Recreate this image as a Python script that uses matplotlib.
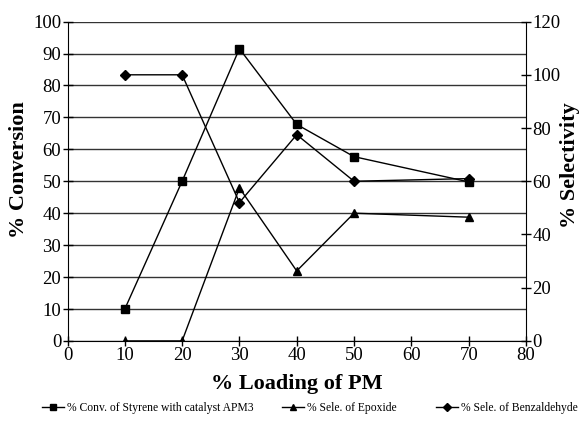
import matplotlib.pyplot as plt
from matplotlib.lines import Line2D

plt.rcParams['font.family'] = ['Liberation Serif', 'DejaVu Serif']

loading = [10, 20, 30, 40, 50, 70]
conversion = [10, 50, 91.5, 67.8, 57.7, 49.8]
sele_epoxide = [0, 0, 57.5, 26.3, 48, 46.5]
sele_benzaldehyde = [100, 100, 52, 77.5, 60, 61]

fig = plt.figure(figsize=(5.87, 4.23), dpi=100)
ax = fig.add_axes([0.115, 0.194, 0.781, 0.755])
ax2 = ax.twinx()

ax.plot(loading, conversion, color='black', lw=1, marker='s', ms=5.5)
ax2.plot(loading, sele_epoxide, color='black', lw=1, marker='^', ms=5.5)
ax2.plot(loading, sele_benzaldehyde, color='black', lw=1, marker='D', ms=5.5)

ax.set_xlim(0, 80)
ax.set_ylim(0, 100)
ax2.set_ylim(0, 120)
ax.set_xticks(range(0, 81, 10))
ax.set_yticks(range(0, 101, 10))
ax2.set_yticks(range(0, 121, 20))
ax.yaxis.grid(True, color='#333333', lw=1)
ax.set_axisbelow(True)

for a in (ax, ax2):
    a.tick_params(direction='inout', length=7, width=1, labelsize=13.5, pad=1)
    a.spines['top'].set_visible(False)
ax.spines['right'].set_visible(False)
ax2.spines['left'].set_visible(False)
ax2.spines['bottom'].set_visible(False)

ax.set_xlabel('% Loading of PM', fontsize=16, fontweight='bold', labelpad=7)
ax.set_ylabel('% Conversion', fontsize=16, fontweight='bold')
ax2.set_ylabel('% Selectivity', fontsize=16, fontweight='bold')
ax.yaxis.set_label_coords(-0.083, 0.536)
ax2.yaxis.set_label_coords(1.074, 0.552)

# three legend entries spaced along the bottom edge
handles = [
    Line2D([], [], color='black', lw=1, marker='s', ms=4),
    Line2D([], [], color='black', lw=1, marker='^', ms=4),
    Line2D([], [], color='black', lw=1, marker='D', ms=4),
]
labels = ['% Conv. of Styrene with catalyst APM3', '% Sele. of Epoxide',
          '% Sele. of Benzaldehyde']
x_starts = [0.072, 0.480, 0.742]
for h, lab, x0 in zip(handles, labels, x_starts):
    fig.legend([h], [lab], loc='center left', bbox_to_anchor=(x0, 0.035),
               frameon=False, fontsize=8.4, handlelength=1.9,
               handletextpad=0.25, borderpad=0, borderaxespad=0)

fig.savefig('out.png', dpi=100)
